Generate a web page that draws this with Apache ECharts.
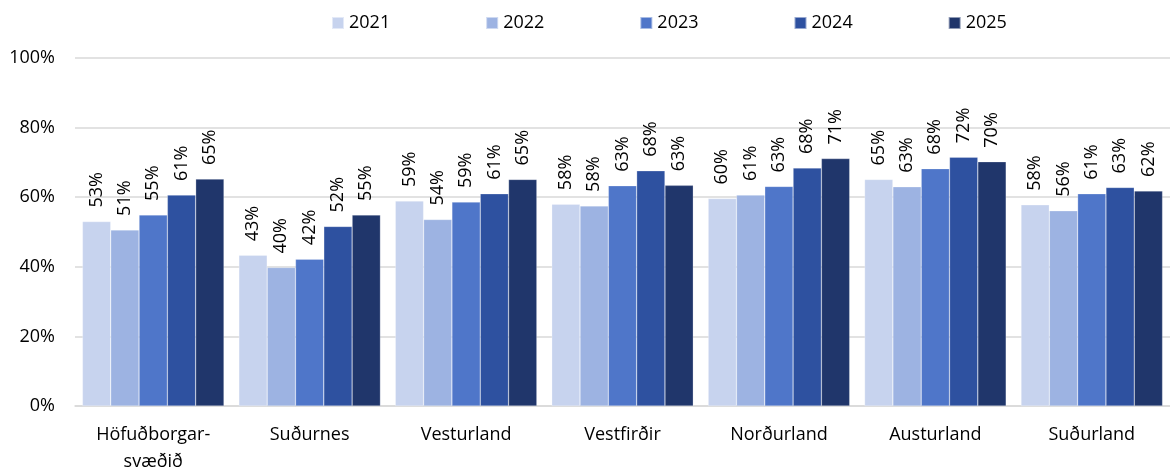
<!DOCTYPE html>
<html>
<head>
<meta charset="utf-8">
<script src="https://cdn.jsdelivr.net/npm/echarts@6/dist/echarts.min.js"></script>
<style>
  html, body { margin: 0; padding: 0; background: #fff; }
  #chart { width: 1170px; height: 470px; }
</style>
</head>
<body>
<div id="chart"></div>
<script>
// landshlutar
const categories = ['Höfuðborgar-\nsvæðið', 'Suðurnes', 'Vesturland', 'Vestfirðir', 'Norðurland', 'Austurland', 'Suðurland'];
const years = ['2021', '2022', '2023', '2024', '2025'];
const colors = ['#C7D3EE', '#9DB3E2', '#4F76C9', '#2E51A0', '#20366B'];

// hlutfall (%)
const v2021 = [53.0, 43.3, 58.9, 58.0, 59.6, 65.1, 57.8];
const v2022 = [50.6, 39.8, 53.6, 57.5, 60.6, 63.0, 56.1];
const v2023 = [54.9, 42.2, 58.6, 63.3, 63.1, 68.2, 61.0];
const v2024 = [60.6, 51.6, 61.0, 67.6, 68.4, 71.5, 62.8];
const v2025 = [65.2, 54.9, 65.1, 63.4, 71.1, 70.2, 61.8];
const yTicks = [0, 20, 40, 60, 80, 100];

const values = [v2021, v2022, v2023, v2024, v2025];
const fontFam = '"Open Sans", "Noto Sans", sans-serif';

const chart = echarts.init(document.getElementById('chart'));
const option = {
    animation: false,
    textStyle: { fontFamily: fontFam },
    legend: {
        top: 9,
        left: 326,
        itemWidth: 12,
        itemHeight: 12,
        itemGap: 95,
        icon: 'rect',
        textStyle: { fontSize: 18, color: '#000', fontFamily: fontFam }
    },
    grid: {
        left: 75,
        right: 0,
        top: 58,
        bottom: 64,
        outerBoundsMode: 'none',
        containLabel: false
    },
    xAxis: {
        type: 'category',
        data: categories,
        axisLine: { lineStyle: { color: '#D9D9D9', width: 1.5 } },
        axisTick: { show: false },
        axisLabel: {
            color: '#000',
            fontSize: 18,
            margin: 15,
            lineHeight: 27,
            fontFamily: fontFam
        }
    },
    yAxis: {
        type: 'value',
        min: yTicks[0],
        max: yTicks[yTicks.length - 1],
        interval: 20,
        axisLine: { show: false },
        axisTick: { show: false },
        splitLine: { lineStyle: { color: '#D9D9D9', width: 1.5 } },
        axisLabel: {
            color: '#000',
            fontSize: 18,
            margin: 20,
            fontFamily: fontFam,
            formatter: v => v + '%'
        }
    },
    series: years.map((y, i) => ({
        name: y,
        type: 'bar',
        data: values[i],
        barGap: '0%',
        barCategoryGap: '9.5%',
        itemStyle: { color: colors[i], borderColor: 'rgba(255,255,255,0.5)', borderWidth: 0.5 },
        label: {
            show: true,
            position: 'top',
            rotate: 90,
            align: 'left',
            verticalAlign: 'middle',
            distance: 14,
            color: '#000',
            fontSize: 18,
            fontFamily: fontFam,
            formatter: p => Math.round(p.value) + '%'
        }
    }))
};
chart.setOption(option);
</script>
</body>
</html>
